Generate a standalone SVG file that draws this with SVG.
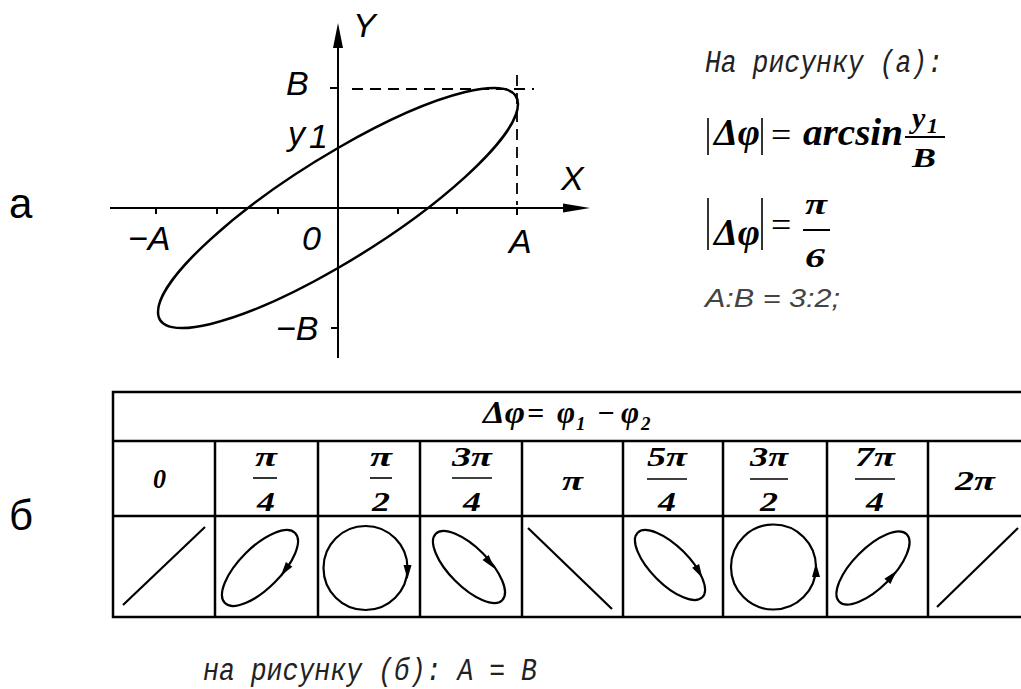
<svg xmlns="http://www.w3.org/2000/svg" xmlns:xlink="http://www.w3.org/1999/xlink" width="1021" height="689" viewBox="0 0 1021 689">
<style>
.ax{stroke:#000;stroke-width:2;fill:none}
.cur{stroke:#000;stroke-width:2.5;fill:none}
.dash{stroke:#000;stroke-width:1.8;fill:none;stroke-dasharray:11 7}
.lbl{font-family:"Liberation Sans",Arial,sans-serif;font-style:italic;font-size:34px;fill:#000}
.bi{font-family:"Liberation Serif","Times New Roman",serif;font-style:italic;font-weight:bold;fill:#000}
.thin{font-family:"Liberation Mono","Courier New",monospace;font-style:italic;font-size:31px;fill:#222}
.side{font-family:"Liberation Sans",Arial,sans-serif;font-size:42px;fill:#000}
.grid{stroke:#000;stroke-width:2.5;fill:none}
.fig{stroke:#000;stroke-width:2.2;fill:none}
.fr{stroke:#000;stroke-width:1.6}
.ph{font-size:27px}
</style>
<defs>
<polygon id="ah" points="7,0 -7,-4 -7,4" fill="#000"/>
</defs>
<rect width="1021" height="689" fill="#fff"/>

<g id="label-a"><text class="side" x="9" y="218">а</text></g>
<g id="label-b"><text class="side" x="9" y="530">б</text></g>

<g id="graph-a">
  <g id="axes">
    <line class="ax" x1="110" y1="208" x2="570" y2="208"/>
    <polygon points="590,208 563,203.5 563,212.5" fill="#000"/>
    <line class="ax" x1="338" y1="358" x2="338" y2="44"/>
    <polygon points="338,23 333,48 343,48" fill="#000"/>
    <path class="ax" d="M156,208v6M217,208v6M278,208v6M398,208v6M457,208v6M517,208v7M338,88h-8M338,328h-7"/>
    <line class="dash" x1="352" y1="89" x2="534" y2="89"/>
    <line class="dash" x1="517" y1="75" x2="517" y2="205"/>
  </g>
  <path class="cur" d="M518,104.08 C518,70.94 437.41,90.6 338,148 C238.59,205.4 158,278.78 158,311.92 C158,345.06 238.59,325.4 338,268 C437.41,210.6 518,137.22 518,104.08 Z"/>
  <text class="lbl" x="353" y="37">Y</text>
  <text class="lbl" x="286" y="95">B</text>
  <text class="lbl" x="288" y="145">y</text>
  <text class="lbl" x="309" y="148" font-size="18">1</text>
  <text class="lbl" x="561" y="190">X</text>
  <text class="lbl" x="509" y="253">A</text>
  <text class="lbl" x="128" y="250">−A</text>
  <text class="lbl" x="302" y="250">0</text>
  <text class="lbl" x="276" y="340">−B</text>
</g>

<g id="formulas">
  <text class="thin" x="705" y="72" textLength="238" lengthAdjust="spacingAndGlyphs">На рисунку (а):</text>
  <line class="fr" x1="708" y1="118" x2="708" y2="155"/>
  <line class="fr" x1="762" y1="118" x2="762" y2="155"/>
  <text class="bi" x="714" y="145" font-size="38" textLength="46" lengthAdjust="spacingAndGlyphs">Δφ</text>
  <text x="771" y="147" font-family="Liberation Serif,serif" font-size="36">=</text>
  <text class="bi" x="803" y="145" font-size="38" textLength="100" lengthAdjust="spacingAndGlyphs">arcsin</text>
  <text class="bi" x="912" y="128" font-size="30">y</text>
  <text class="bi" x="927" y="133" font-size="22">1</text>
  <line x1="905" y1="137" x2="945" y2="137" stroke="#000" stroke-width="2"/>
  <text class="bi" x="912" y="167" font-size="28" textLength="24" lengthAdjust="spacingAndGlyphs">B</text>

  <line class="fr" x1="708" y1="198" x2="708" y2="250"/>
  <line class="fr" x1="762" y1="198" x2="762" y2="250"/>
  <text class="bi" x="714" y="245" font-size="38" textLength="46" lengthAdjust="spacingAndGlyphs">Δφ</text>
  <text x="771" y="237" font-family="Liberation Serif,serif" font-size="36">=</text>
  <text class="bi" x="805" y="214" font-size="30" textLength="22" lengthAdjust="spacingAndGlyphs">π</text>
  <line x1="803" y1="230" x2="830" y2="230" stroke="#000" stroke-width="2"/>
  <text class="bi" x="805" y="267" font-size="28" textLength="20" lengthAdjust="spacingAndGlyphs">6</text>
  <text x="705" y="307" font-family="Liberation Sans,Arial,sans-serif" font-style="italic" font-size="26" fill="#444" textLength="135" lengthAdjust="spacingAndGlyphs">A:B = 3:2;</text>
</g>

<g id="table">
  <path class="grid" d="M1021,392H113V617H1021M113,441H1021M113,516H1021M215,441V617M318,441V617M420,441V617M522,441V617M623,441V617M723,441V617M827,441V617M928,441V617"/>
  <g id="header">
    <text class="bi" x="483" y="423" font-size="31" textLength="42" lengthAdjust="spacingAndGlyphs">Δφ</text>
    <text class="bi" x="527" y="423" font-size="30">=</text>
    <text class="bi" x="557" y="423" font-size="31">φ</text>
    <text class="bi" x="576" y="430" font-size="19">1</text>
    <text class="bi" x="597" y="423" font-size="30">−</text>
    <text class="bi" x="621" y="423" font-size="31">φ</text>
    <text class="bi" x="641" y="430" font-size="19">2</text>
  </g>
  <g id="phases" lengthAdjust="spacingAndGlyphs">
    <text class="bi ph" x="153" y="488" textLength="13" lengthAdjust="spacingAndGlyphs">0</text>
    <text class="bi ph" x="255" y="466" textLength="22" lengthAdjust="spacingAndGlyphs">π</text><line class="fr" x1="253" y1="478" x2="277" y2="478"/><text class="bi ph" x="257" y="511" textLength="18" lengthAdjust="spacingAndGlyphs">4</text>
    <text class="bi ph" x="370" y="466" textLength="22" lengthAdjust="spacingAndGlyphs">π</text><line class="fr" x1="370" y1="478" x2="392" y2="478"/><text class="bi ph" x="372" y="511" textLength="18" lengthAdjust="spacingAndGlyphs">2</text>
    <text class="bi ph" x="452" y="466" textLength="40" lengthAdjust="spacingAndGlyphs">3π</text><line class="fr" x1="452" y1="478" x2="492" y2="478"/><text class="bi ph" x="463" y="511" textLength="18" lengthAdjust="spacingAndGlyphs">4</text>
    <text class="bi ph" x="562" y="490" textLength="21" lengthAdjust="spacingAndGlyphs">π</text>
    <text class="bi ph" x="647" y="466" textLength="40" lengthAdjust="spacingAndGlyphs">5π</text><line class="fr" x1="647" y1="479" x2="687" y2="479"/><text class="bi ph" x="658" y="511" textLength="18" lengthAdjust="spacingAndGlyphs">4</text>
    <text class="bi ph" x="750" y="466" textLength="38" lengthAdjust="spacingAndGlyphs">3π</text><line class="fr" x1="750" y1="479" x2="788" y2="479"/><text class="bi ph" x="760" y="511" textLength="18" lengthAdjust="spacingAndGlyphs">2</text>
    <text class="bi ph" x="855" y="466" textLength="40" lengthAdjust="spacingAndGlyphs">7π</text><line class="fr" x1="855" y1="479" x2="895" y2="479"/><text class="bi ph" x="866" y="511" textLength="18" lengthAdjust="spacingAndGlyphs">4</text>
    <text class="bi ph" x="955" y="490" textLength="40" lengthAdjust="spacingAndGlyphs">2π</text>
  </g>
  <g id="figures">
    <line class="fig" x1="123" y1="605" x2="205" y2="527"/>
    <ellipse class="fig" cx="260" cy="568" rx="49.6" ry="20.6" transform="rotate(-45 260 568)"/>
    <use xlink:href="#ah" transform="translate(285,570) rotate(126)"/>
    <circle class="fig" cx="365.5" cy="568" r="42"/>
    <use xlink:href="#ah" transform="translate(407.5,572) rotate(90)"/>
    <ellipse class="fig" cx="469" cy="567" rx="47" ry="19.5" transform="rotate(45 469 567)"/>
    <use xlink:href="#ah" transform="translate(490,563) rotate(51)"/>
    <line class="fig" x1="528" y1="528" x2="612" y2="609"/>
    <ellipse class="fig" cx="670" cy="565" rx="45.7" ry="19" transform="rotate(45 670 565)"/>
    <use xlink:href="#ah" transform="translate(699,572) rotate(61)"/>
    <circle class="fig" cx="773.5" cy="567" r="42.5"/>
    <use xlink:href="#ah" transform="translate(816,570) rotate(-90)"/>
    <ellipse class="fig" cx="873" cy="568" rx="47.7" ry="19.8" transform="rotate(-45 873 568)"/>
    <use xlink:href="#ah" transform="translate(892,576) rotate(-49)"/>
    <line class="fig" x1="937" y1="607" x2="1018" y2="528"/>
  </g>
</g>

<g id="caption-b">
  <text class="thin" x="203" y="680" textLength="334" lengthAdjust="spacingAndGlyphs">на рисунку (б): А = В</text>
</g>
</svg>
